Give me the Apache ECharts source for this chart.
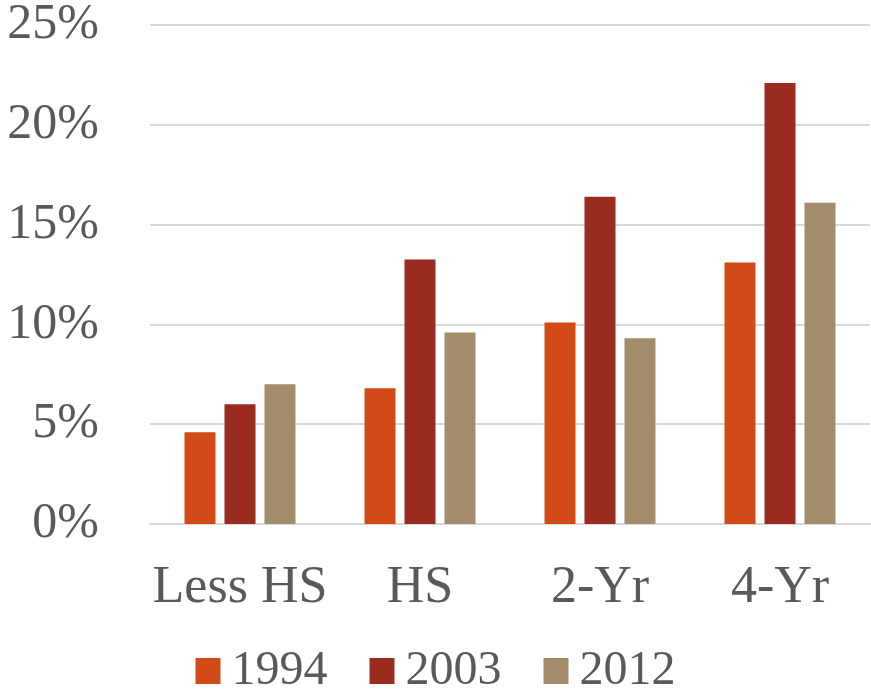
<!DOCTYPE html>
<html><head><meta charset="utf-8">
<script src="https://cdn.jsdelivr.net/npm/echarts@6/dist/echarts.min.js"></script>
<style>html,body{margin:0;padding:0;background:#fff}#c{width:871px;height:690px}</style>
</head><body><div id="c"></div>
<script>
const categories = ["Less HS", "HS", "2-Yr", "4-Yr"];
const s1994 = [4.6, 6.8, 10.1, 13.1];
const s2003 = [6.0, 13.25, 16.4, 22.1];
const s2012 = [7.0, 9.6, 9.3, 16.1];
const seriesNames = ["1994", "2003", "2012"];
const colors = ["#D24A18", "#9A2B1F", "#A38C6A"];
const yTicks = { min: 0, max: 25, interval: 5 };

const font = "'Liberation Serif', 'Times New Roman', serif";
const chart = echarts.init(document.getElementById('c'), null, { renderer: 'canvas' });
const data = [s1994, s2003, s2012];
chart.setOption({
  animation: false,
  color: colors,
  grid: { left: 150, right: 1, top: 22, bottom: 166, containLabel: false },
  legend: {
    bottom: -10, left: 'center',
    itemWidth: 25, itemHeight: 26, itemGap: 42,
    icon: 'rect',
    textStyle: { fontFamily: font, fontSize: 48, color: '#595959', padding: [0, 0, 0, 6] },
    data: seriesNames
  },
  xAxis: {
    type: 'category', data: categories,
    axisLine: { show: true, lineStyle: { color: '#d9d9d9', width: 2 } },
    axisTick: { show: false },
    axisLabel: { interval: 0, fontFamily: font, fontSize: 52, color: '#595959', margin: 38 }
  },
  yAxis: {
    type: 'value', min: yTicks.min, max: yTicks.max, interval: yTicks.interval,
    axisLine: { show: false }, axisTick: { show: false },
    splitLine: { lineStyle: { color: '#d9d9d9', width: 2 } },
    axisLabel: { fontFamily: font, fontSize: 50, color: '#595959', margin: 51,
      formatter: v => v + '%' }
  },
  series: seriesNames.map((n, i) => ({
    name: n, type: 'bar', data: data[i], barWidth: 31, barGap: '29%'
  }))
});
</script></body></html>
